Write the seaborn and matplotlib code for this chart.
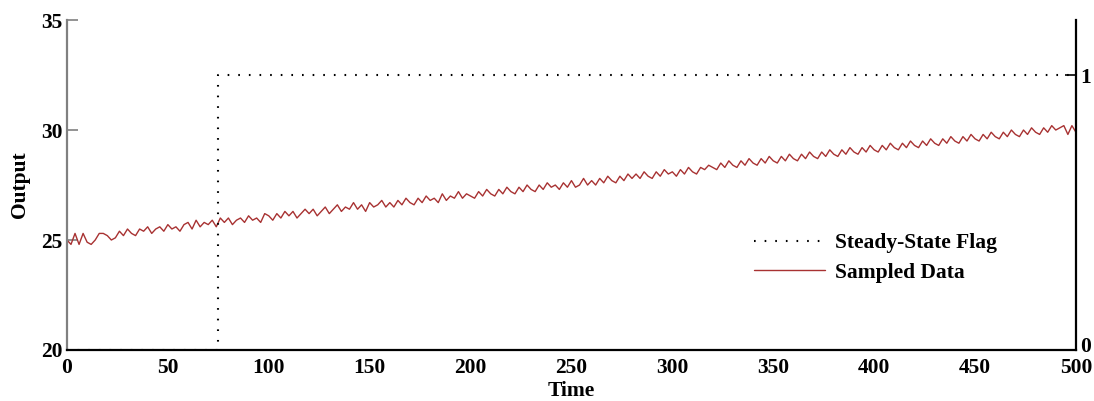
import numpy as np
import pandas as pd
import matplotlib
matplotlib.use("Agg")
import matplotlib.pyplot as plt
import matplotlib.transforms as mtransforms
import seaborn as sns

sns.set_theme(style="white")
plt.rcParams['font.family'] = ['Liberation Serif', 'DejaVu Serif']
plt.rcParams['font.weight'] = 'bold'

# ---- data ----
time = list(range(0, 501, 2))
output = [
    25.0, 24.8, 25.3, 24.8, 25.3, 24.9, 24.8, 25.0, 25.3, 25.3,
    25.2, 25.0, 25.1, 25.4, 25.2, 25.5, 25.3, 25.2, 25.5, 25.4,
    25.6, 25.3, 25.5, 25.6, 25.4, 25.7, 25.5, 25.6, 25.4, 25.7,
    25.8, 25.5, 25.9, 25.6, 25.8, 25.7, 25.9, 25.6, 26.0, 25.8,
    26.0, 25.7, 25.9, 26.0, 25.8, 26.1, 25.9, 26.0, 25.8, 26.2,
    26.1, 25.9, 26.2, 26.0, 26.3, 26.1, 26.3, 26.0, 26.2, 26.4,
    26.2, 26.4, 26.1, 26.3, 26.5, 26.2, 26.4, 26.6, 26.3, 26.5,
    26.4, 26.7, 26.4, 26.6, 26.3, 26.7, 26.5, 26.6, 26.8, 26.5,
    26.7, 26.5, 26.8, 26.6, 26.9, 26.7, 26.6, 26.9, 26.7, 27.0,
    26.8, 26.9, 26.7, 27.1, 26.8, 27.0, 26.9, 27.2, 26.9, 27.1,
    27.0, 26.9, 27.2, 27.0, 27.3, 27.1, 27.0, 27.3, 27.1, 27.4,
    27.2, 27.1, 27.4, 27.2, 27.5, 27.3, 27.2, 27.5, 27.3, 27.6,
    27.4, 27.5, 27.3, 27.6, 27.4, 27.7, 27.4, 27.5, 27.8, 27.5,
    27.7, 27.5, 27.8, 27.6, 27.9, 27.7, 27.6, 27.9, 27.7, 28.0,
    27.8, 28.0, 27.8, 28.1, 27.9, 27.8, 28.1, 27.9, 28.2, 28.0,
    28.1, 27.9, 28.2, 28.0, 28.3, 28.1, 28.0, 28.3, 28.2, 28.4,
    28.3, 28.2, 28.5, 28.3, 28.6, 28.4, 28.3, 28.6, 28.4, 28.7,
    28.5, 28.4, 28.7, 28.5, 28.8, 28.6, 28.5, 28.8, 28.6, 28.9,
    28.7, 28.6, 28.9, 28.7, 29.0, 28.8, 28.7, 29.0, 28.8, 29.1,
    28.9, 28.8, 29.1, 28.9, 29.2, 29.0, 28.9, 29.2, 29.0, 29.3,
    29.1, 29.0, 29.3, 29.1, 29.4, 29.2, 29.1, 29.4, 29.2, 29.5,
    29.3, 29.2, 29.5, 29.3, 29.6, 29.4, 29.3, 29.6, 29.4, 29.7,
    29.5, 29.4, 29.7, 29.5, 29.8, 29.6, 29.5, 29.8, 29.6, 29.9,
    29.7, 29.6, 29.9, 29.7, 30.0, 29.8, 29.7, 30.0, 29.8, 30.1,
    29.9, 29.8, 30.1, 29.9, 30.2, 30.0, 30.1, 30.2, 29.8, 30.2,
    29.9,
]
flag_time = [0, 75, 75, 500]
flag_value = [0, 0, 1, 1]

x_ticks = [0, 50, 100, 150, 200, 250, 300, 350, 400, 450, 500]
y_ticks = [20, 25, 30, 35]
y2_ticks = [0, 1]

data_df = pd.DataFrame({"Time": time, "Output": output})
flag_df = pd.DataFrame({"Time": flag_time, "Flag": flag_value})

fig = plt.figure(figsize=(10.94, 4.01), dpi=100)
ax = fig.add_axes([0.0612, 0.1272, 0.9223, 0.8228])
ax2 = ax.twinx()

line_color = "#A83232"
sns.lineplot(data=data_df, x="Time", y="Output", ax=ax, color=line_color,
             linewidth=1.0, label="Sampled Data", legend=False, estimator=None)
sns.lineplot(data=flag_df, x="Time", y="Flag", ax=ax2, color="black",
             linewidth=1.5, linestyle=(0, (0.8, 4.3)), sort=False, estimator=None,
             label="Steady-State Flag", legend=False)

ax.set_xlim(0, 500)
ax.set_ylim(20, 35)
ax2.set_ylim(0, 1.2)
ax.set_xticks(x_ticks)
ax.set_yticks(y_ticks)
ax2.set_yticks(y2_ticks)

fs = 15.5
ax.tick_params(axis='x', which='both', length=0, labelsize=fs, pad=6, colors='black')
ax.tick_params(axis='y', direction='in', length=8, width=1.2, color='#808080',
               labelsize=fs, pad=3, labelcolor='black')
ax2.tick_params(axis='y', direction='in', length=8, width=1.2, color='black',
                labelsize=fs, pad=3, labelcolor='black')
for lbl in ax.get_xticklabels() + ax.get_yticklabels() + ax2.get_yticklabels():
    lbl.set_fontweight('bold')

# lift the right-axis "0" slightly, as in the reference
shift = mtransforms.ScaledTranslation(0, 5 / 100, fig.dpi_scale_trans)
r_labels = ax2.get_yticklabels()
r_labels[0].set_transform(r_labels[0].get_transform() + shift)

for a in (ax, ax2):
    a.spines['top'].set_visible(False)
ax2.spines['left'].set_visible(False)
ax2.spines['bottom'].set_visible(False)
ax.spines['right'].set_visible(False)
ax.spines['left'].set_color('#808080')
ax.spines['left'].set_linewidth(1.6)
ax.spines['bottom'].set_color('black')
ax.spines['bottom'].set_linewidth(1.6)
ax2.spines['right'].set_color('black')
ax2.spines['right'].set_linewidth(1.6)

ax.set_xlabel("Time", fontsize=fs, color='black', labelpad=2, fontweight='bold')
ax.set_ylabel("Output", fontsize=fs, color='black', labelpad=8, fontweight='bold')
ax2.set_ylabel("")

h1, l1 = ax.get_legend_handles_labels()
h2, l2 = ax2.get_legend_handles_labels()
leg = ax2.legend(h2 + h1, l2 + l1, loc='upper left', bbox_to_anchor=(0.662, 0.413),
                 frameon=False, fontsize=fs, handlelength=3.3, handletextpad=0.45,
                 labelspacing=0.45, prop={'weight': 'bold', 'size': fs})
for t in leg.get_texts():
    t.set_color('black')

fig.savefig("out.png", dpi=100)
